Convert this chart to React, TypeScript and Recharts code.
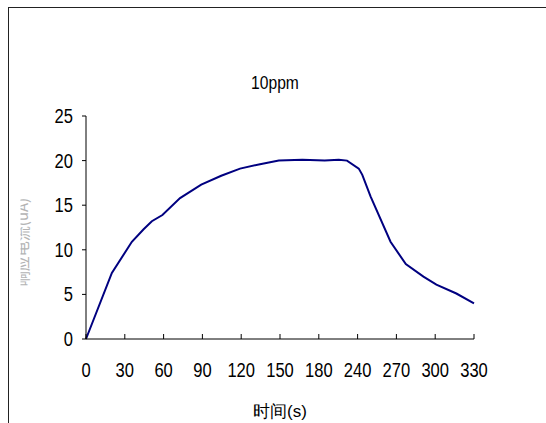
import { Label, Line, LineChart, XAxis, YAxis } from "recharts";

const timeLabels = ["0", "30", "60", "90", "120", "150", "180", "240", "270", "300", "330"];
const tickPositions = [0, 33, 66, 99, 132, 165, 198, 231, 264, 297, 330];
const currentTicks = [0, 5, 10, 15, 20, 25];

// position along the time axis (axis units) and current
const timePos = [0, 22, 39, 49, 56, 65, 80, 98, 115, 131, 148, 164, 184, 203, 215, 222, 232, 235, 242, 259, 272, 287, 298, 315, 330];
const current = [0, 7.4, 10.9, 12.3, 13.2, 13.9, 15.8, 17.3, 18.3, 19.1, 19.6, 20.0, 20.1, 20.0, 20.1, 20.0, 19.1, 18.4, 16.0, 10.9, 8.4, 7.0, 6.1, 5.1, 4.0];

const data = timePos.map((t, i) => ({ t, current: current[i] }));

const font = "'Liberation Sans', Arial, sans-serif";

function XTick(props: any) {
  const { x, y, index } = props;
  return (
    <g>
      <line x1={x} x2={x} y1={y} y2={y - 5} stroke="#000" />
      <text
        transform={`translate(${x} ${y + 38}) scale(0.92 1.1)`}
        textAnchor="middle"
        fontSize={18}
        fontFamily={font}
        fill="#000"
      >
        {timeLabels[index]}
      </text>
    </g>
  );
}

function YTick(props: any) {
  const { x, y, payload } = props;
  return (
    <text
      transform={`translate(${x} ${y + 7}) scale(0.92 1.1)`}
      textAnchor="end"
      fontSize={18}
      fontFamily={font}
      fill="#000"
    >
      {payload.value}
    </text>
  );
}

export default function App() {
  return (
    <div style={{ position: "absolute", left: 0, top: 0, width: 546, height: 423, overflow: "hidden", background: "#fff" }}>
      <div
        style={{
          position: "absolute",
          left: 8,
          top: 7,
          width: 600,
          height: 500,
          border: "1.5px solid #222"
        }}
      />
      <svg width={546} height={423} style={{ position: "absolute", left: 0, top: 0 }}>
        <text
          transform="translate(275 89) scale(0.92 1.1)"
          textAnchor="middle"
          fontSize={17}
          fontFamily={font}
          fill="#000"
        >
          10ppm
        </text>
        <defs>
          <clipPath id="ylabel-clip">
            <rect x={20.5} y={150} width={40} height={200} />
          </clipPath>
        </defs>
        <g clipPath="url(#ylabel-clip)">
          <text
            transform="translate(28 242) rotate(-90)"
            textAnchor="middle"
            fontSize={15}
            fontFamily="'Noto Sans CJK SC', sans-serif"
            fill="#b4b4b4"
          >
            响应电流(uA)
          </text>
        </g>
      </svg>
      <div style={{ position: "absolute", left: 0, top: 0 }}>
        <LineChart width={546} height={423} data={data} margin={{ top: 116, right: 72, bottom: 0, left: 0 }}>
          <XAxis
            dataKey="t"
            type="number"
            domain={[0, 330]}
            ticks={tickPositions}
            interval={0}
            height={84}
            axisLine={{ stroke: "#000" }}
            tickLine={false}
            tickSize={0}
            tickMargin={0}
            tick={<XTick />}
          >
            <Label
              value="时间(s)"
              position="insideBottom"
              offset={6}
              fontSize={17}
              fontFamily={font}
              fill="#000"
            />
          </XAxis>
          <YAxis
            type="number"
            domain={[0, 25]}
            ticks={currentTicks}
            interval={0}
            width={86}
            axisLine={{ stroke: "#000" }}
            tickLine={{ stroke: "#000" }}
            tickSize={4}
            tickMargin={9}
            tick={<YTick />}
          />
          <Line
            type="linear"
            dataKey="current"
            stroke="#000080"
            strokeWidth={2}
            dot={false}
            isAnimationActive={false}
          />
        </LineChart>
      </div>
    </div>
  );
}
